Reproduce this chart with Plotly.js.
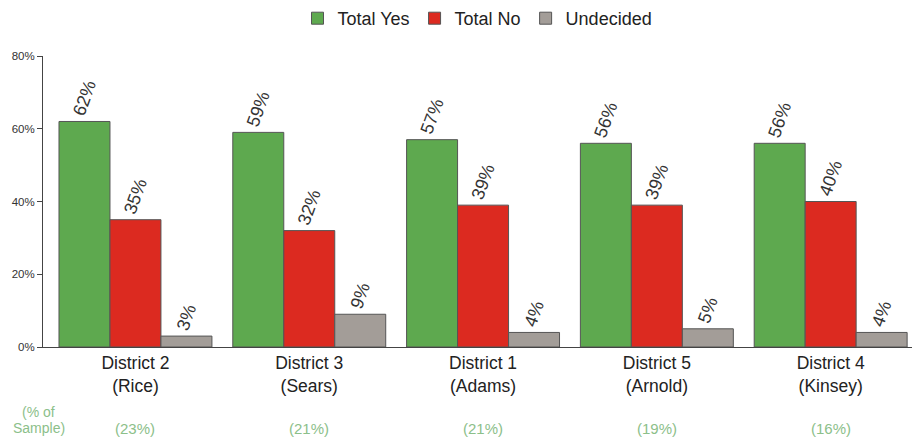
<!DOCTYPE html>
<html><head><meta charset="utf-8">
<script src="https://cdn.plot.ly/plotly-3.0.1.min.js"></script>
<style>html,body{margin:0;padding:0;background:#fff;}#chart{width:912px;height:440px;}</style>
</head><body><div id="chart"></div>
<script>
const categories = ["District 2<br>(Rice)", "District 3<br>(Sears)", "District 1<br>(Adams)", "District 5<br>(Arnold)", "District 4<br>(Kinsey)"];
const totalYes = [62, 59, 57, 56, 56];
const totalNo = [35, 32, 39, 39, 40];
const undecided = [3, 9, 4, 5, 4];
const sampleShare = ["(23%)", "(21%)", "(21%)", "(19%)", "(16%)"];
const sampleLabel = ["(% of", "Sample)"];
const yTicks = [0, 20, 40, 60, 80];
const FONT = 'Liberation Sans, Arial, sans-serif';

function series(name, vals, color) {
  return {
    type: 'bar', name: name, x: categories, y: vals,
    text: vals.map(v => v + '%'), texttemplate: '%{text}',
    marker: {color: color, line: {color: '#555', width: 1}},
    textposition: 'outside', textangle: -70,
    textfont: {family: FONT, size: 18, color: '#333'},
    constraintext: 'none', cliponaxis: false, hoverinfo: 'skip'
  };
}
const data = [
  series('Total Yes', totalYes, '#5ea94f'),
  series('Total No', totalNo, '#dc2a20'),
  series('Undecided', undecided, '#a39d98')
];
const annotations = sampleShare.map((s, i) => ({
  x: categories[i], y: 0, xref: 'x', yref: 'y', yshift: -81, yanchor: 'middle', text: s, showarrow: false,
  font: {family: FONT, size: 15, color: '#8cc08a'}
}));
sampleLabel.forEach((s, i) => annotations.push({
  xref: 'paper', yref: 'paper', x: -0.005, y: 0, yshift: -65 - 16 * i, xanchor: 'center', yanchor: 'middle',
  text: s, showarrow: false,
  font: {family: FONT, size: 14, color: '#8cc08a'}
}));
const layout = {
  width: 912, height: 440,
  margin: {l: 43, r: 0, t: 56, b: 93},
  paper_bgcolor: '#fff', plot_bgcolor: '#fff',
  barmode: 'group', bargap: 0.12, bargroupgap: 0,
  font: {family: FONT, color: '#333'},
  showlegend: true,
  legend: {orientation: 'h', x: 0.5, xanchor: 'center', y: 1.0, yanchor: 'top', yref: 'container',
           font: {size: 18, color: '#222'}, itemwidth: 30, tracegroupgap: 0},
  xaxis: {type: 'category', range: [-0.532, 4.468], showline: true, linecolor: '#444', linewidth: 1,
          ticks: '', tickfont: {size: 17.5, color: '#222'}, showgrid: false, zeroline: false, fixedrange: true},
  yaxis: {range: [0, 80], tickvals: yTicks, ticktext: yTicks.map(v => v + '%'), showline: true,
          linecolor: '#444', linewidth: 1, ticks: 'outside', ticklen: 5, tickcolor: '#444',
          tickfont: {size: 11.5, color: '#333'}, showgrid: false, zeroline: false, fixedrange: true},
  annotations: annotations
};
Plotly.newPlot('chart', data, layout, {displayModeBar: false, staticPlot: true});
</script></body></html>
